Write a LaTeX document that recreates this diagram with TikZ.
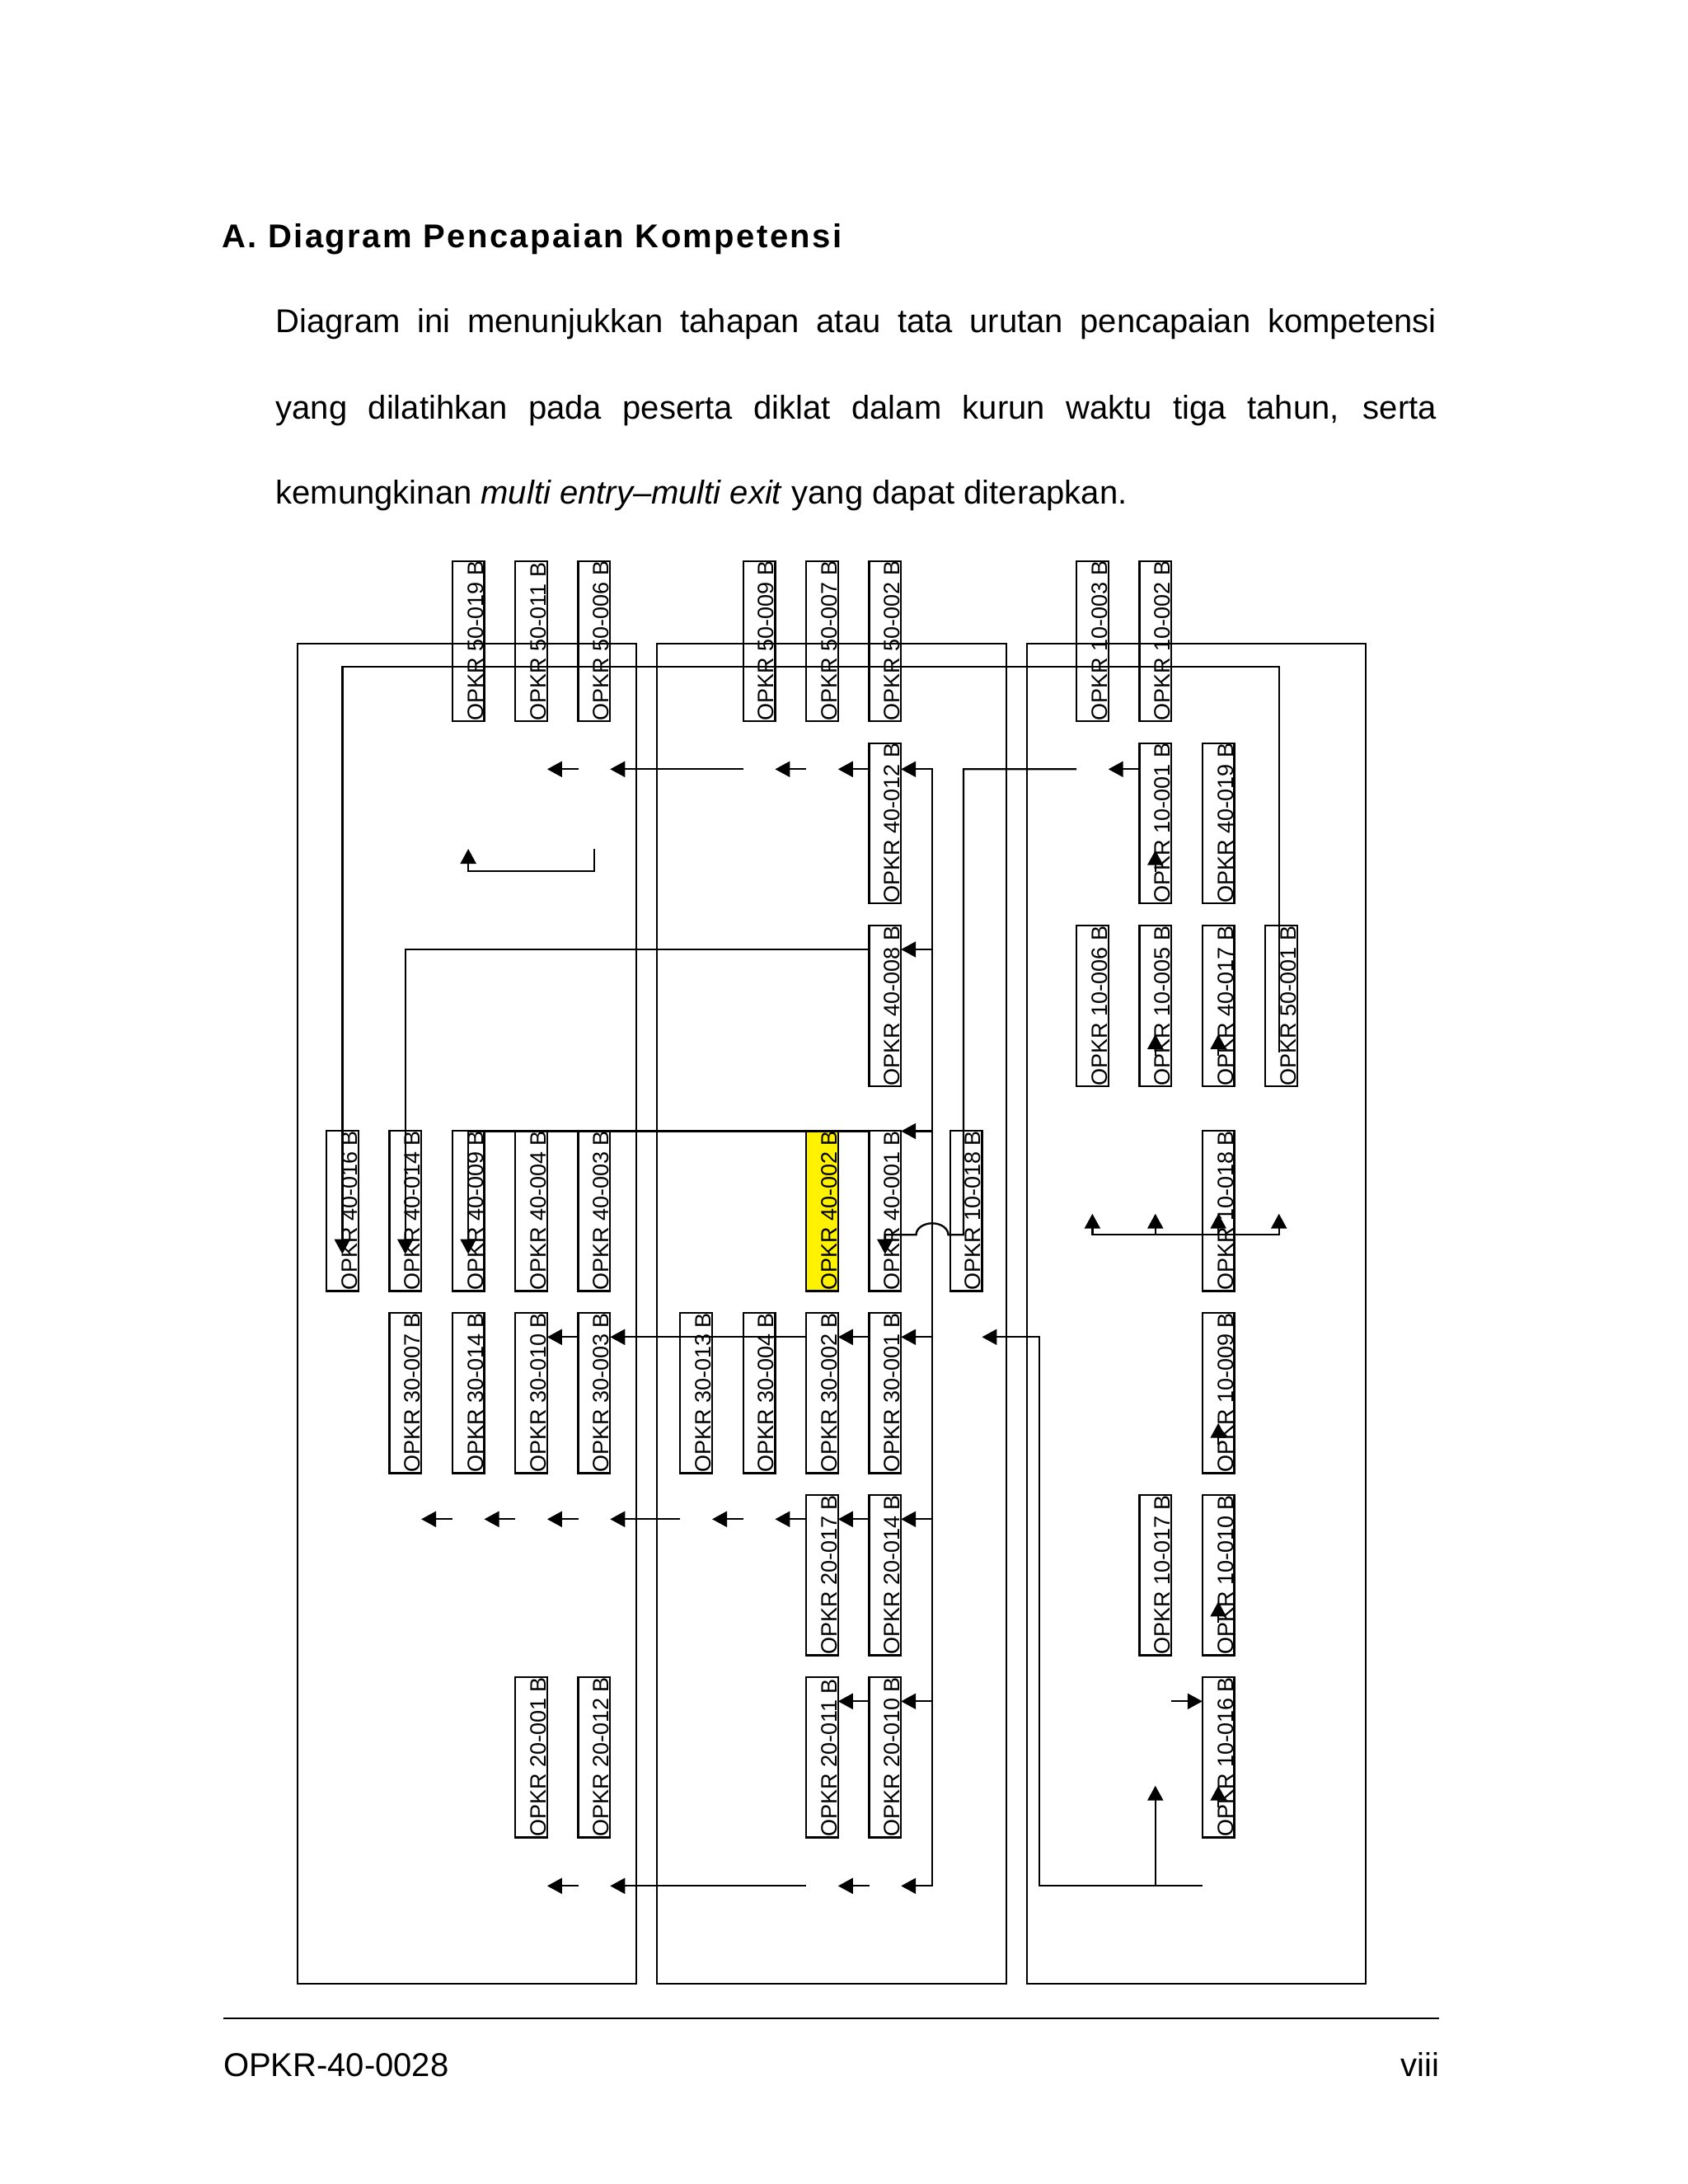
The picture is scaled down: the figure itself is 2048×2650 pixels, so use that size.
\documentclass[tikz,border=0pt]{standalone}
\usepackage{fontspec}
\setmainfont{Liberation Sans}
\newfontfamily\headfont[LetterSpace=6.0]{Liberation Sans Bold}
\usetikzlibrary{arrows.meta,calc}
\newcommand{\obx}[5][]{%
  \node[obox,#1] (#2) at ({#3+19.35},{#4+97.3}) {};%
  \node[lbl] (#2t) at ($(#2.south east)+(-1.5,-0.8)$) {#5};}
\newcommand{\gst}[3]{\node[ghost] (#1) at ({#2+19.35},{#3+97.3}) {};}
\begin{document}
\begin{tikzpicture}[x=0.3pt,y=-0.3pt,line width=0.7pt,
  obox/.style={draw=black,line width=0.7pt,rectangle,minimum width=11.61pt,minimum height=58.38pt,inner sep=0pt,outer sep=0pt},
  ghost/.style={draw=none,rectangle,minimum width=11.61pt,minimum height=58.38pt,inner sep=0pt,outer sep=0pt},
  lbl/.style={rotate=90,anchor=base west,inner sep=0pt,outer sep=0pt,font=\fontsize{8.1pt}{9.7pt}\selectfont},
  arr/.style={draw=black,line width=0.7pt,-{Triangle[length=5.4pt,width=5.7pt]}},
  arrtwo/.style={draw=black,line width=0.7pt,{Triangle[length=5.4pt,width=5.7pt]}-{Triangle[length=5.4pt,width=5.7pt]}},
  conn/.style={draw=black,line width=0.7pt},
  frame/.style={draw=black,line width=0.7pt},
  txt/.style={anchor=base west,inner sep=0pt,outer sep=0pt,font=\fontsize{12pt}{14pt}\selectfont}
]
\fill[white] (0,0) rectangle (2048,2650);
\useasboundingbox (0,0) rectangle (2048,2650);

% texts
\node[txt,font=\headfont\fontsize{12pt}{14pt}\selectfont] (head) at (269.6,300) {A. Diagram Pencapaian Kompetensi};
\node[txt] (p1) at (334.6,403.3) {\makebox[422.5pt][s]{Diagram ini menunjukkan tahapan atau tata urutan pencapaian kompetensi}};
\node[txt] (p2) at (334.6,508) {\makebox[422.5pt][s]{yang dilatihkan pada peserta diklat dalam kurun waktu tiga tahun, serta}};
\node[txt] (p3) at (334.6,611.7) {kemungkinan \textit{multi entry\textendash multi exit} yang dapat diterapkan.};

% frames
\draw[frame] (361,781) rectangle (771.7,2407.3);
\draw[frame] (797,781) rectangle (1220.7,2407.3);
\draw[frame] (1245.7,781) rectangle (1656.7,2407.3);

% row 1
\obx{b50019}{548.8}{680.7}{OPKR 50-019 B}
\obx{b50011}{625.2}{680.7}{OPKR 50-011 B}
\obx{b50006}{701.6}{680.7}{OPKR 50-006 B}
\obx{b50009}{901.7}{680.7}{OPKR 50-009 B}
\obx{b50007}{978.1}{680.7}{OPKR 50-007 B}
\obx{b50002}{1054.5}{680.7}{OPKR 50-002 B}
\obx{b10003}{1306.0}{680.7}{OPKR 10-003 B}
\obx{b10002}{1382.4}{680.7}{OPKR 10-002 B}
% row 2
\obx{b40012}{1054.5}{901.7}{OPKR 40-012 B}
\obx{b10001}{1382.4}{901.7}{OPKR 10-001 B}
\obx{b40019}{1458.8}{901.7}{OPKR 40-019 B}
% row 3
\obx{b40008}{1054.5}{1123.3}{OPKR 40-008 B}
\obx{b10006}{1306.0}{1123.3}{OPKR 10-006 B}
\obx{b10005}{1382.4}{1123.3}{OPKR 10-005 B}
\obx{b40017}{1458.8}{1123.3}{OPKR 40-017 B}
\obx{b50001}{1535.2}{1123.3}{OPKR 50-001 B}
% row 4
\obx{b40016}{396.0}{1372}{OPKR 40-016 B}
\obx{b40014}{472.4}{1372}{OPKR 40-014 B}
\obx{b40009}{548.8}{1372}{OPKR 40-009 B}
\obx{b40004}{625.2}{1372}{OPKR 40-004 B}
\obx{b40003}{701.6}{1372}{OPKR 40-003 B}
\obx[fill=yellow]{b40002}{978.1}{1372}{OPKR 40-002 B}
\obx{b40001}{1054.5}{1372}{OPKR 40-001 B}
\obx{b10018m}{1152.7}{1372}{OPKR 10-018 B}
\obx{b10018r}{1458.8}{1372}{OPKR 10-018 B}
% row 5
\obx{b30007}{472.4}{1593}{OPKR 30-007 B}
\obx{b30014}{548.8}{1593}{OPKR 30-014 B}
\obx{b30010}{625.2}{1593}{OPKR 30-010 B}
\obx{b30003}{701.6}{1593}{OPKR 30-003 B}
\obx{b30013}{825.3}{1593}{OPKR 30-013 B}
\obx{b30004}{901.7}{1593}{OPKR 30-004 B}
\obx{b30002}{978.1}{1593}{OPKR 30-002 B}
\obx{b30001}{1054.5}{1593}{OPKR 30-001 B}
\obx{b10009}{1458.8}{1593}{OPKR 10-009 B}
% row 6
\obx{b20017}{978.1}{1814}{OPKR 20-017 B}
\obx{b20014}{1054.5}{1814}{OPKR 20-014 B}
\obx{b10017}{1382.4}{1814}{OPKR 10-017 B}
\obx{b10010}{1458.8}{1814}{OPKR 10-010 B}
% row 7
\obx{b20001}{625.2}{2035}{OPKR 20-001 B}
\obx{b20012}{701.6}{2035}{OPKR 20-012 B}
\obx{b20011}{978.1}{2035}{OPKR 20-011 B}
\obx{b20010}{1054.5}{2035}{OPKR 20-010 B}
\obx{b10016}{1458.8}{2035}{OPKR 10-016 B}

% empty slots
\gst{g3r2}{548.8}{901.7}
\gst{g4r2}{625.2}{901.7}
\gst{g5r2}{701.6}{901.7}
\gst{g7r2}{901.7}{901.7}
\gst{g8r2}{978.1}{901.7}
\gst{g11r2}{1306.0}{901.7}
\gst{g11r4}{1306.0}{1372}
\gst{g12r4}{1382.4}{1372}
\gst{g10r5}{1152.7}{1593}
\gst{g2r6}{472.4}{1814}
\gst{g3r6}{548.8}{1814}
\gst{g4r6}{625.2}{1814}
\gst{g5r6}{701.6}{1814}
\gst{g6r6}{825.3}{1814}
\gst{g7r6}{901.7}{1814}
\gst{g12r7}{1382.4}{2035}
\gst{g4r8}{625.2}{2256}
\gst{g5r8}{701.6}{2256}
\gst{g8r8}{978.1}{2256}
\gst{g9r8}{1054.5}{2256}
\gst{g13r8}{1458.8}{2256}

% levels
\coordinate (lvT) at (0,808.7);
\coordinate (lv2) at (0,933.3);
\coordinate (lvLa) at (0,1030);
\coordinate (lvLb) at (0,1056.7);
\coordinate (lvU2) at (0,1031.7);
\coordinate (lv3) at (0,1152);
\coordinate (lvU3) at (0,1255);
\coordinate (lvS) at (0,1276.7);
\coordinate (lv4) at (0,1372.5);
\coordinate (lvU4) at (0,1472.7);
\coordinate (lvH) at (0,1498.3);
\coordinate (lvD) at (0,1521.7);
\coordinate (lv5) at (0,1622.3);
\coordinate (lvU5) at (0,1726.7);
\coordinate (lv6) at (0,1843.3);
\coordinate (lvU6) at (0,1943.3);
\coordinate (lv7) at (0,2064.3);
\coordinate (lvU7) at (0,2166.7);
\coordinate (lv8) at (0,2288.3);
\coordinate (trA) at (1131,933.3);
\coordinate (trB) at (1169,933.3);
\coordinate (trC) at (1261,1622.3);
\coordinate (busR) at (1551.7,808.7);

% long connectors
\draw[arr] (busR |- lvS) -- (busR) -- (b40016.center |- lvT) -- (b40016.center |- lvD);
\draw[arr] (b40008.west |- lv3) -- (b40014.center |- lv3) -- (b40014.center |- lvD);
\draw[arr] (b40001.west |- lv4) -- (b40009.center |- lv4) -- (b40009.center |- lvD);
\draw[arr] (g11r2.west |- lv2) -- (trB) -- (trB |- lvH) -- ($(trA |- lvH)+(19.5,0)$)
   arc[start angle=0,end angle=180,x radius=5.85pt,y radius=4.2pt] -- (b40001.center |- lvH) -- (b40001.center |- lvD);

% main trunk
\draw[arr] (trA |- lv3) -- (trA) -- (b40012.east |- lv2);
\draw[arr] (trA |- lv3) -- (trA |- lv8) -- (g9r8.east |- lv8);
\draw[arr] (trA |- lv3) -- (b40008.east |- lv3);
\draw[arr] (trA |- lv4) -- (b40001.east |- lv4);
\draw[arr] (trA |- lv5) -- (b30001.east |- lv5);
\draw[arr] (trA |- lv6) -- (b20014.east |- lv6);
\draw[arr] (trA |- lv7) -- (b20010.east |- lv7);

% row 2
\draw[arr] (b10001.west |- lv2) -- (g11r2.east |- lv2);
\draw[arr] (b40012.west |- lv2) -- (g8r2.east |- lv2);
\draw[arr] (g8r2.west |- lv2) -- (g7r2.east |- lv2);
\draw[arr] (g7r2.west |- lv2) -- (g5r2.east |- lv2);
\draw[arr] (g5r2.west |- lv2) -- (g4r2.east |- lv2);
\draw[arr] (g5r2.center |- lvLa) -- (g5r2.center |- lvLb) -- (g3r2.center |- lvLb) -- (g3r2.center |- lvLa);

% row 4 right
\draw[arrtwo] (g11r4.center |- lvU4) -- (g11r4.center |- lvH) -- (busR |- lvH) -- (busR |- lvU4);
\draw[arr] (g12r4.center |- lvH) -- (g12r4.center |- lvU4);
\draw[arr] (b10018r.center |- lvH) -- (b10018r.center |- lvU4);

% row 5
\draw[arr] (b30001.west |- lv5) -- (b30002.east |- lv5);
\draw[arr] (b30002.west |- lv5) -- (b30003.east |- lv5);
\draw[arr] (b30003.west |- lv5) -- (b30010.east |- lv5);
\draw[arr] (g13r8.west |- lv8) -- (trC |- lv8) -- (trC) -- (g10r5.east |- lv5);

% row 6
\draw[arr] (b20014.west |- lv6) -- (b20017.east |- lv6);
\draw[arr] (b20017.west |- lv6) -- (g7r6.east |- lv6);
\draw[arr] (g7r6.west |- lv6) -- (g6r6.east |- lv6);
\draw[arr] (g6r6.west |- lv6) -- (g5r6.east |- lv6);
\draw[arr] (g5r6.west |- lv6) -- (g4r6.east |- lv6);
\draw[arr] (g4r6.west |- lv6) -- (g3r6.east |- lv6);
\draw[arr] (g3r6.west |- lv6) -- (g2r6.east |- lv6);

% row 7
\draw[arr] (b20010.west |- lv7) -- (b20011.east |- lv7);
\draw[arr] (g12r7.east |- lv7) -- (b10016.west |- lv7);

% row 8
\draw[arr] (g9r8.west |- lv8) -- (g8r8.east |- lv8);
\draw[arr] (g8r8.west |- lv8) -- (g5r8.east |- lv8);
\draw[arr] (g5r8.west |- lv8) -- (g4r8.east |- lv8);
\draw[arr] (g12r7.center |- lv8) -- (g12r7.center |- lvU7);

% short upward arrows
\draw[arr] ($(b10001.center |- lvU2)+(0,26)$) -- (b10001.center |- lvU2);
\draw[arr] ($(b10005.center |- lvU3)+(0,26)$) -- (b10005.center |- lvU3);
\draw[arr] ($(b40017.center |- lvU3)+(0,26)$) -- (b40017.center |- lvU3);
\draw[arr] ($(b10009.center |- lvU5)+(0,26)$) -- (b10009.center |- lvU5);
\draw[arr] ($(b10010.center |- lvU6)+(0,26)$) -- (b10010.center |- lvU6);
\draw[arr] ($(b10016.center |- lvU7)+(0,26)$) -- (b10016.center |- lvU7);

% footer
\draw[line width=0.75pt] (271,2449) -- (1746,2449);
\node[txt] (foot) at (271,2519) {OPKR-40-0028};
\node[txt,anchor=base east] (page) at (1746,2519) {viii};
\end{tikzpicture}
\end{document}
